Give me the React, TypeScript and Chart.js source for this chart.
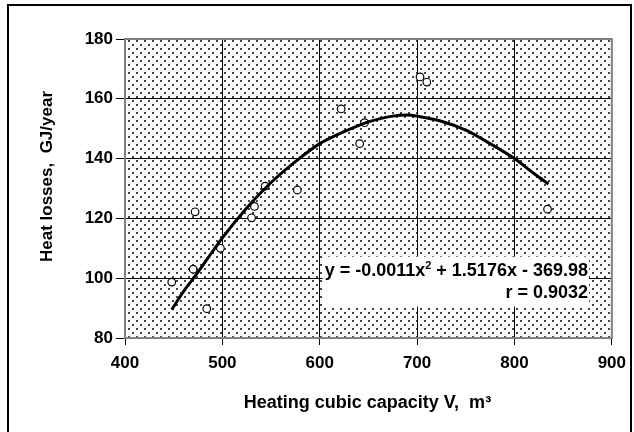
import React, { useEffect, useRef } from "react";
import { Chart, registerables } from "chart.js";

Chart.register(...registerables);

// ---- data ----
const volumes = [448, 470, 472, 484, 498, 530, 533, 544, 577, 622, 641, 646, 703, 710, 834];
const losses = [98.7, 103, 122.2, 89.8, 110, 120.2, 124, 130.8, 129.5, 156.6, 145, 152, 167.3, 165.6, 123.1];

// trend curve
const trendX = [448, 460, 475, 500, 525, 550, 575, 600, 625, 650, 675, 690, 700, 725, 750, 775, 800, 820, 835];
const trendY = [89.5, 95.5, 102, 113.5, 123.5, 132, 139, 145, 149, 152.3, 154.2, 154.6, 154.2, 152.5, 149.5, 145, 140, 135, 131.5];

const xTicks = [400, 500, 600, 700, 800, 900];
const yTicks = [80, 100, 120, 140, 160, 180];

const xTitle = "Heating cubic capacity V,  m\u00b3";
const yTitle = "Heat losses,  GJ/year";
const eqParts = ["y = -0.0011x", "2", " + 1.5176x - 369.98"];
const rText = "r = 0.9032";

// ---- layout / style constants ----
const FONT = '"Liberation Sans", Arial, sans-serif';
const LABEL_RIGHT_X = 875.5; // data units
const LABEL_TOP_Y = 107.2; // data units

function makePattern(): CanvasPattern | string {
  const c = document.createElement("canvas");
  c.width = 8;
  c.height = 8;
  const g = c.getContext("2d");
  if (!g) return "#ddd";
  g.fillStyle = "#ffffff";
  g.fillRect(0, 0, 8, 8);
  g.fillStyle = "#444444";
  g.fillRect(0, 0, 2, 2);
  g.fillRect(4, 4, 2, 2);
  const p = g.createPattern(c, "repeat");
  return p || "#ddd";
}

const decorPlugin = {
  id: "decor",
  beforeDraw(chart: any) {
    const { ctx, chartArea: a } = chart;
    ctx.save();
    ctx.fillStyle = "#ffffff";
    ctx.fillRect(0, 0, chart.width, chart.height);
    ctx.fillStyle = makePattern();
    ctx.fillRect(a.left, a.top, a.right - a.left, a.bottom - a.top);
    // outer frame
    ctx.strokeStyle = "#000";
    ctx.lineWidth = 2;
    ctx.beginPath();
    ctx.moveTo(8, chart.height + 4);
    ctx.lineTo(8, 5);
    ctx.lineTo(631, 5);
    ctx.lineTo(631, chart.height + 4);
    ctx.stroke();
    ctx.restore();
  },
  beforeDatasetsDraw(chart: any) {
    const { ctx, chartArea: a, scales } = chart;
    ctx.save();
    // plot border
    ctx.strokeStyle = "#808080";
    ctx.lineWidth = 2;
    ctx.strokeRect(a.left, a.top, a.right - a.left, a.bottom - a.top);

    // equation label
    const right = scales.x.getPixelForValue(LABEL_RIGHT_X);
    const top = scales.y.getPixelForValue(LABEL_TOP_Y);
    const big = `bold 18px ${FONT}`;
    const small = `bold 11px ${FONT}`;
    ctx.font = big;
    const w1 = ctx.measureText(eqParts[0]).width;
    const w3 = ctx.measureText(eqParts[2]).width;
    ctx.font = small;
    const w2 = ctx.measureText(eqParts[1]).width;
    const total = w1 + w2 + w3;
    const start = right - total;
    ctx.fillStyle = "#ffffff";
    ctx.fillRect(start - 2, top, total + 3, 50);
    ctx.fillStyle = "#000";
    ctx.textBaseline = "alphabetic";
    ctx.textAlign = "left";
    const b1 = top + 19;
    ctx.font = big;
    ctx.fillText(eqParts[0], start, b1);
    ctx.font = small;
    ctx.fillText(eqParts[1], start + w1, b1 - 7);
    ctx.font = big;
    ctx.fillText(eqParts[2], start + w1 + w2, b1);
    ctx.textAlign = "right";
    ctx.fillText(rText, right, b1 + 22);
    ctx.restore();
  },
  afterDraw(chart: any) {
    const { ctx, chartArea: a } = chart;
    ctx.save();
    ctx.fillStyle = "#000";
    ctx.textAlign = "center";
    ctx.textBaseline = "middle";
    ctx.font = `bold 18px ${FONT}`;
    ctx.fillText(xTitle, (a.left + a.right) / 2 - 1, a.bottom + 65);
    ctx.font = `bold 17px ${FONT}`;
    ctx.translate(47, (a.top + a.bottom) / 2 - 12);
    ctx.rotate(-Math.PI / 2);
    ctx.fillText(yTitle, 0, 0);
    ctx.restore();
  },
};

export default function App() {
  const ref = useRef<HTMLCanvasElement | null>(null);

  useEffect(() => {
    if (!ref.current) return;
    const tickFont = { family: FONT, size: 17, weight: "bold" as const };
    const chart = new Chart(ref.current, {
      type: "scatter",
      data: {
        datasets: [
          {
            type: "line",
            label: "trend",
            data: trendX.map((x, i) => ({ x, y: trendY[i] })),
            borderColor: "#000",
            borderWidth: 3,
            pointRadius: 0,
            tension: 0.3,
            fill: false,
            order: 0,
          } as any,
          {
            label: "losses",
            data: volumes.map((x, i) => ({ x, y: losses[i] })),
            pointRadius: 3.8,
            pointBorderWidth: 1.2,
            pointBackgroundColor: "#ffffff",
            pointBorderColor: "#000",
            showLine: false,
            order: 1,
          },
        ],
      },
      options: {
        responsive: false,
        animation: false,
        layout: { padding: { left: 0, top: 39, right: 17, bottom: 0 } },
        plugins: { legend: { display: false }, tooltip: { enabled: false }, title: { display: false } },
        scales: {
          x: {
            type: "linear",
            min: xTicks[0],
            max: xTicks[xTicks.length - 1],
            afterBuildTicks: (s: any) => {
              s.ticks = xTicks.map((v) => ({ value: v }));
            },
            afterFit: (s: any) => {
              s.height = 94;
            },
            ticks: { color: "#000", font: tickFont, padding: 8 },
            grid: { color: "#000", lineWidth: 1, tickLength: 7, tickColor: "#000" },
            border: { display: false },
          },
          y: {
            type: "linear",
            min: yTicks[0],
            max: yTicks[yTicks.length - 1],
            afterBuildTicks: (s: any) => {
              s.ticks = yTicks.map((v) => ({ value: v }));
            },
            afterFit: (s: any) => {
              s.width = 125;
            },
            ticks: { color: "#000", font: tickFont, padding: 3 },
            grid: { color: "#000", lineWidth: 1, tickLength: 9, tickColor: "#000" },
            border: { display: false },
          },
        },
      },
      plugins: [decorPlugin],
    });
    return () => chart.destroy();
  }, []);

  return (
    <div style={{ position: "absolute", left: 0, top: 0, width: 634, height: 432 }}>
      <canvas ref={ref} width={634} height={432} style={{ display: "block" }} />
    </div>
  );
}
